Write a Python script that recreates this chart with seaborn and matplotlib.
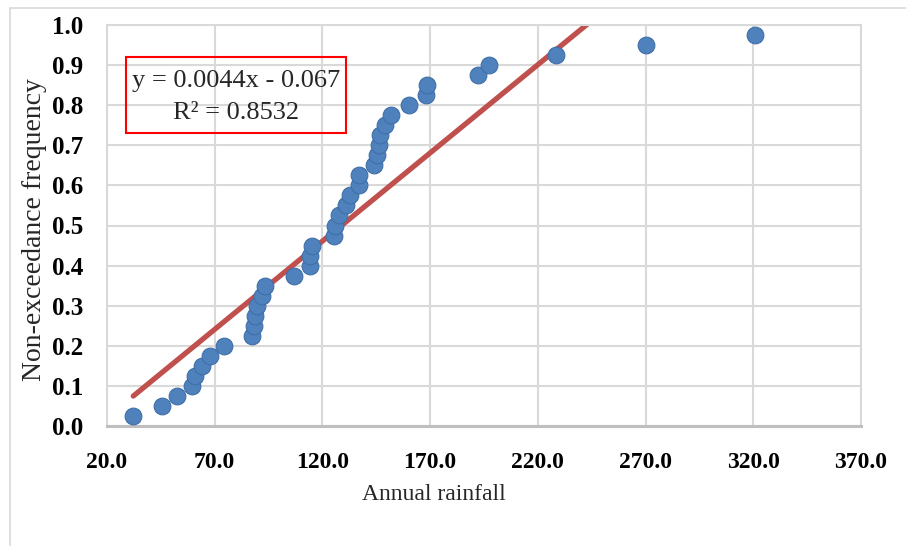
import numpy as np
import pandas as pd
import matplotlib
matplotlib.use("Agg")
import matplotlib.pyplot as plt
import seaborn as sns
from matplotlib.patches import Rectangle
from matplotlib.lines import Line2D

# ---- data ----
rainfall = [32.2, 45.7, 52.4, 59.4, 60.9, 64.0, 67.9, 74.4, 87.3, 88.3,
            88.8, 89.6, 91.9, 93.4, 106.6, 114.4, 114.4, 115.2, 125.2, 126.0,
            127.8, 130.8, 133.0, 136.8, 136.8, 143.8, 145.4, 146.1, 146.9, 149.2,
            151.6, 160.3, 168.2, 168.6, 192.0, 197.5, 228.6, 270.4, 320.8]
frequency = [0.025, 0.050, 0.075, 0.100, 0.125, 0.150, 0.175, 0.200, 0.225, 0.250,
             0.275, 0.300, 0.325, 0.350, 0.375, 0.400, 0.425, 0.450, 0.475, 0.500,
             0.525, 0.550, 0.575, 0.600, 0.625, 0.650, 0.675, 0.700, 0.725, 0.750,
             0.775, 0.800, 0.825, 0.850, 0.875, 0.900, 0.925, 0.950, 0.975]
slope = 0.0044
intercept = -0.067
r_squared = 0.8532
x_ticks = [20, 70, 120, 170, 220, 270, 320, 370]
y_ticks = [0.0, 0.1, 0.2, 0.3, 0.4, 0.5, 0.6, 0.7, 0.8, 0.9, 1.0]

df = pd.DataFrame({"rain": rainfall, "freq": frequency})
trend_x = [min(rainfall), max(rainfall)]
trend = pd.DataFrame({"rain": trend_x,
                      "freq": [slope * v + intercept for v in trend_x]})

sns.set_theme(style="white")
plt.rcParams["font.family"] = ["Liberation Serif", "DejaVu Serif"]

fig = plt.figure(figsize=(9.06, 5.46), dpi=100)
ax = fig.add_axes([107/906, 1-426/546, (861-107)/906, (426-25)/546])

sns.lineplot(data=trend, x="rain", y="freq", ax=ax, color="#C0504D",
             linewidth=3.8, zorder=2)
sns.scatterplot(data=df, x="rain", y="freq", ax=ax, s=145,
                color="#4F81BD", edgecolor="#3F6FA8", linewidth=0.8, zorder=3)

ax.set_xlim(20, 370)
ax.set_ylim(0, 1.0)
ax.set_xticks(x_ticks)
ax.set_yticks(y_ticks)
ax.set_xticklabels([f"{v:.1f}" for v in x_ticks], fontsize=17, fontweight="bold")
ax.set_yticklabels([f"{v:.1f}" for v in y_ticks], fontsize=18, fontweight="bold")
ax.tick_params(axis="both", length=0, colors="#000000")
ax.tick_params(axis="x", pad=19)
ax.tick_params(axis="y", pad=17)
ax.grid(True, color="#D9D9D9", linewidth=1.5)
ax.set_axisbelow(True)
for side in ["left", "right", "top"]:
    ax.spines[side].set_color("#D9D9D9")
    ax.spines[side].set_linewidth(1.5)
ax.spines["bottom"].set_color("#BFBFBF")
ax.spines["bottom"].set_linewidth(2.2)

ax.set_xlabel("Annual rainfall", fontsize=17)
ax.xaxis.set_label_coords(0.434, -0.145)
ax.set_ylabel("Non-exceedance frequency", fontsize=20)
ax.yaxis.set_label_coords(-0.08, 0.49)

# equation box
fig.add_artist(Rectangle((126/906, 1-133/546), 220/906, 76/546,
                         transform=fig.transFigure, fill=False,
                         edgecolor="#FF0000", linewidth=1.5))
fig.text(236/906, 1-81/546, f"y = {slope}x - {abs(intercept)}",
         ha="center", va="center", fontsize=19)
fig.text(236/906, 1-113/546, f"R\u00b2 = {r_squared}",
         ha="center", va="center", fontsize=19)

# outer chart frame
fig.add_artist(Line2D([10/906, 1], [1-8/546, 1-8/546], transform=fig.transFigure,
                      color="#D9D9D9", linewidth=1.2))
fig.add_artist(Line2D([10/906, 10/906], [0, 1-8/546], transform=fig.transFigure,
                      color="#D9D9D9", linewidth=1.2))

fig.savefig("out.png", dpi=100, facecolor="white")
